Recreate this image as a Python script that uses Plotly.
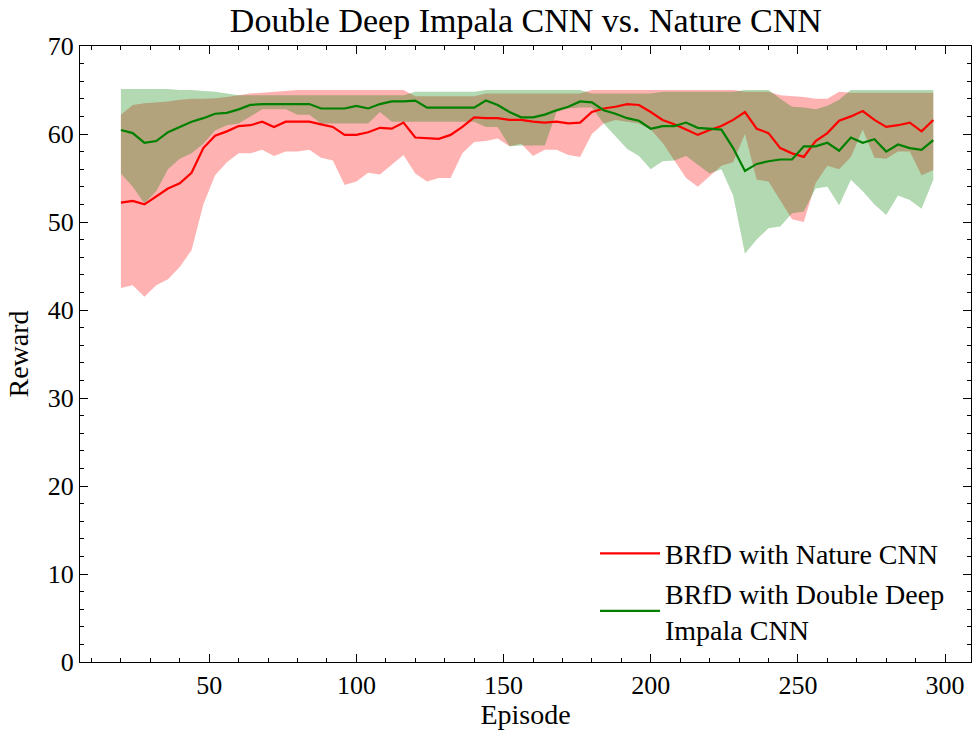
import plotly.graph_objects as go

episodes = [20, 24, 28, 32, 36, 40, 44, 48, 52, 56, 60, 64, 68, 72, 76, 80, 84, 88, 92, 96,
            100, 104, 108, 112, 116, 120, 124, 128, 132, 136, 140, 144, 148, 152, 156, 160,
            164, 168, 172, 176, 180, 184, 188, 192, 196, 200, 204, 208, 212, 216, 220, 224,
            228, 232, 236, 240, 244, 248, 252, 256, 260, 264, 268, 272, 276, 280, 284, 288,
            292, 296]

nature_mean = [52.2, 52.4, 52.0, 52.9, 53.8, 54.4, 55.6, 58.4, 59.8, 60.3, 60.9, 61.0, 61.4, 60.8,
               61.4, 61.4, 61.4, 61.1, 60.8, 59.9, 59.9, 60.2, 60.7, 60.6, 61.3, 59.6, 59.5, 59.45,
               59.9, 60.8, 61.9, 61.8, 61.8, 61.6, 61.6, 61.4, 61.3, 61.4, 61.2, 61.3, 62.5, 62.9,
               63.1, 63.4, 63.3, 62.5, 61.6, 61.1, 60.5, 59.9, 60.45, 60.9, 61.6, 62.5, 60.6, 60.1,
               58.4, 57.8, 57.4, 59.2, 60.1, 61.5, 62.0, 62.6, 61.6, 60.8, 61.0, 61.3, 60.3, 61.6]

nature_hi = [62.2, 63.3, 63.5, 63.6, 63.7, 63.9, 64.0, 64.0, 64.05, 64.2, 64.4, 64.6, 64.7, 64.8,
             64.9, 65.0, 65.0, 65.0, 65.0, 65.0, 65.0, 65.0, 65.0, 65.0, 65.0, 64.3, 64.3, 64.3,
             64.3, 64.3, 64.3, 64.6, 64.6, 64.6, 64.6, 64.6, 64.6, 64.6, 64.6, 64.6, 65.0, 65.0,
             65.0, 65.0, 65.0, 65.0, 65.0, 65.0, 65.0, 65.0, 65.0, 65.0, 65.0, 64.8, 64.8, 64.8,
             64.4, 64.3, 64.2, 64.0, 64.0, 64.8, 64.7, 64.7, 64.7, 64.7, 64.7, 64.7, 64.7, 64.7]

nature_lo = [42.5, 42.8, 41.5, 42.8, 43.5, 44.9, 46.8, 52.0, 55.3, 56.8, 57.8, 57.8, 58.2, 57.5,
             58.0, 58.0, 58.2, 57.3, 57.0, 54.2, 54.6, 55.6, 55.4, 56.5, 57.6, 55.5, 54.6, 55.0,
             55.0, 57.8, 59.1, 59.2, 59.5, 58.6, 58.9, 57.5, 58.2, 58.2, 57.6, 57.4, 60.0, 61.2,
             61.6, 61.4, 61.2, 60.5, 59.0, 57.0, 55.0, 54.0, 55.2, 56.4, 56.8, 60.0, 54.8, 54.6,
             52.5, 50.3, 50.0, 54.4, 56.4, 56.0, 57.4, 60.5, 57.3, 57.2, 58.0, 58.0, 55.3, 55.9]

impala_mean = [60.45, 60.1, 59.0, 59.2, 60.2, 60.8, 61.4, 61.8, 62.3, 62.4, 62.8, 63.3, 63.4, 63.4,
               63.4, 63.4, 63.4, 62.9, 62.9, 62.9, 63.2, 62.9, 63.4, 63.7, 63.7, 63.8, 63.0, 63.0,
               63.0, 63.0, 63.0, 63.8, 63.3, 62.5, 61.9, 61.9, 62.2, 62.7, 63.1, 63.7, 63.6, 62.7,
               62.3, 61.8, 61.5, 60.6, 60.9, 60.9, 61.3, 60.7, 60.6, 60.5, 58.4, 55.8, 56.6, 56.9,
               57.1, 57.1, 58.6, 58.6, 59.0, 58.1, 59.6, 59.0, 59.4, 58.0, 58.8, 58.4, 58.2, 59.3]

impala_hi = [65.1, 65.1, 65.1, 65.1, 65.1, 65.0, 65.0, 64.9, 64.8, 64.6, 64.4, 64.4, 64.4, 64.4,
             64.4, 64.4, 64.4, 64.4, 64.4, 64.4, 64.4, 64.4, 64.4, 64.4, 64.4, 64.8, 64.8, 64.8,
             64.8, 64.8, 64.8, 65.0, 65.0, 65.0, 65.0, 65.0, 65.0, 65.0, 65.0, 65.0, 64.6, 64.6,
             64.6, 64.6, 64.6, 64.6, 64.8, 64.8, 64.8, 64.8, 64.8, 64.8, 64.8, 65.0, 65.0, 65.0,
             64.0, 63.1, 63.0, 62.8, 63.2, 63.9, 65.0, 65.0, 65.0, 65.0, 65.0, 65.0, 65.0, 65.0]

impala_lo = [55.5, 54.0, 52.1, 53.5, 56.0, 57.2, 57.8, 58.9, 60.4, 61.0, 61.2, 62.0, 62.8, 62.8,
             62.8, 62.2, 62.2, 61.2, 61.2, 61.2, 61.2, 61.2, 62.5, 61.4, 61.4, 61.4, 61.4, 61.4,
             61.4, 61.4, 61.4, 60.8, 60.8, 58.6, 58.7, 58.7, 58.7, 62.5, 62.9, 63.0, 63.0, 61.2,
             59.8, 58.3, 57.5, 56.0, 56.9, 57.0, 57.5, 56.5, 55.5, 56.0, 53.0, 46.4, 48.0, 49.3,
             49.5, 51.0, 51.2, 53.8, 54.0, 51.9, 54.8, 53.5, 52.0, 50.8, 53.0, 52.5, 51.5, 54.8]

FONT = "Liberation Serif"

fig = go.Figure()

fig.add_trace(go.Scatter(
    x=episodes + episodes[::-1], y=nature_hi + nature_lo[::-1],
    fill="toself", fillcolor="rgba(255,0,0,0.3)", line=dict(width=0),
    mode="lines", hoverinfo="skip", showlegend=False))
fig.add_trace(go.Scatter(
    x=episodes + episodes[::-1], y=impala_hi + impala_lo[::-1],
    fill="toself", fillcolor="rgba(0,128,0,0.3)", line=dict(width=0),
    mode="lines", hoverinfo="skip", showlegend=False))
fig.add_trace(go.Scatter(
    x=episodes, y=nature_mean, mode="lines",
    line=dict(color="#ff0000", width=2.2), name="BRfD with Nature CNN"))
fig.add_trace(go.Scatter(
    x=episodes, y=impala_mean, mode="lines",
    line=dict(color="#008000", width=2.2), name="BRfD with Double Deep<br>Impala CNN"))

axis_common = dict(
    showline=True, linecolor="black", linewidth=1.3, mirror="allticks",
    ticks="inside", ticklen=8, tickwidth=1.3, tickcolor="black",
    showgrid=False, zeroline=False,
    tickfont=dict(family=FONT, size=26, color="black"),
)

fig.update_xaxes(
    range=[6.1, 308.8], tick0=0, dtick=50,
    minor=dict(ticks="inside", dtick=10, ticklen=4, tickwidth=1.1, tickcolor="black", showgrid=False),
    title=dict(text="Episode", font=dict(family=FONT, size=28, color="black"), standoff=10),
    **axis_common)
fig.update_yaxes(
    range=[0, 70], tick0=0, dtick=10,
    minor=dict(ticks="inside", dtick=2, ticklen=4, tickwidth=1.1, tickcolor="black", showgrid=False),
    title=dict(text="Reward", font=dict(family=FONT, size=28, color="black"), standoff=10),
    **axis_common)

fig.update_layout(
    width=972, height=730,
    margin=dict(l=80, r=1, t=46, b=68),
    paper_bgcolor="white", plot_bgcolor="white",
    title=dict(text="Double Deep Impala CNN vs. Nature CNN", x=0.541, xanchor="center",
               y=0.972, yref="container", yanchor="middle",
               font=dict(family=FONT, size=34, color="black")),
    legend=dict(x=0.578, y=0.012, xanchor="left", yanchor="bottom",
                bgcolor="rgba(0,0,0,0)", borderwidth=0,
                font=dict(family=FONT, size=28, color="black"),
                itemwidth=60, tracegroupgap=4),
    showlegend=True,
)

fig.write_html("out.html")
